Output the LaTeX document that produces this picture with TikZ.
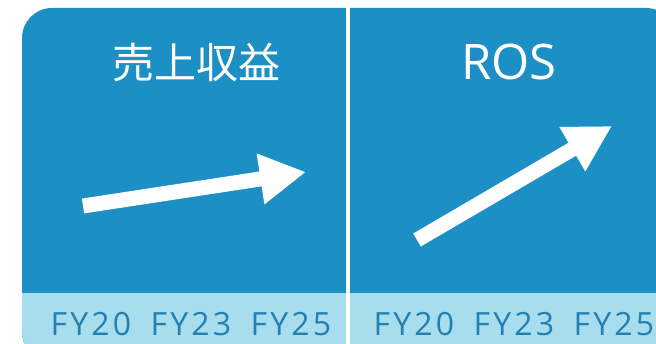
\documentclass[tikz,border=0pt]{standalone}
\usepackage{fontspec}
\setmainfont{Open Sans}
\newfontfamily\jpfont{Noto Sans CJK JP}
\newfontfamily\yearfont[LetterSpace=10]{Open Sans}
\usetikzlibrary{arrows.meta}
\definecolor{cardblue}{HTML}{1C8FC4}
\definecolor{bandblue}{HTML}{A8DDED}
\definecolor{yearblue}{HTML}{2480B3}
\tikzset{
  title/.style={text=white,inner sep=0pt,anchor=base},
  year/.style={text=yearblue,inner sep=0pt,anchor=base,font=\yearfont\fontsize{32}{32}\selectfont},
  trend/.style={white,line width=15pt,-{Triangle[length=46pt,width=48pt]}}
}

\begin{document}
\begin{tikzpicture}[x=1pt,y=-1pt]
  \useasboundingbox (0,0) rectangle (656,344);
  \clip (0,0) rectangle (656,344);
  \fill[cardblue,rounded corners=30pt] (22,8) rectangle (676,362);
  \begin{scope}
    \clip[rounded corners=30pt] (22,8) rectangle (676,362);
    \fill[bandblue] (22,293) rectangle (676,362);
  \end{scope}
  \fill[white] (345.5,0) rectangle (349.5,344);

  \node[title,font=\jpfont\fontsize{42}{42}\selectfont] (revtitle) at (196,79) {売上収益};
  \node[title,font=\fontsize{49}{49}\selectfont] (rostitle) at (509,80) {ROS};

  \node[year] (lfy20) at (91,336) {FY20};
  \node[year] (lfy23) at (191,336) {FY23};
  \node[year] (lfy25) at (291,336) {FY25};
  \node[year] (rfy20) at (414,336) {FY20};
  \node[year] (rfy23) at (514,336) {FY23};
  \node[year] (rfy25) at (614,336) {FY25};

  \coordinate (revtail) at (83,206);
  \coordinate (revtip) at (306,172);
  \coordinate (rostail) at (417,240);
  \coordinate (rostip) at (612,126);
  \draw[trend] (revtail) -- (revtip);
  \draw[trend] (rostail) -- (rostip);
\end{tikzpicture}
\end{document}
